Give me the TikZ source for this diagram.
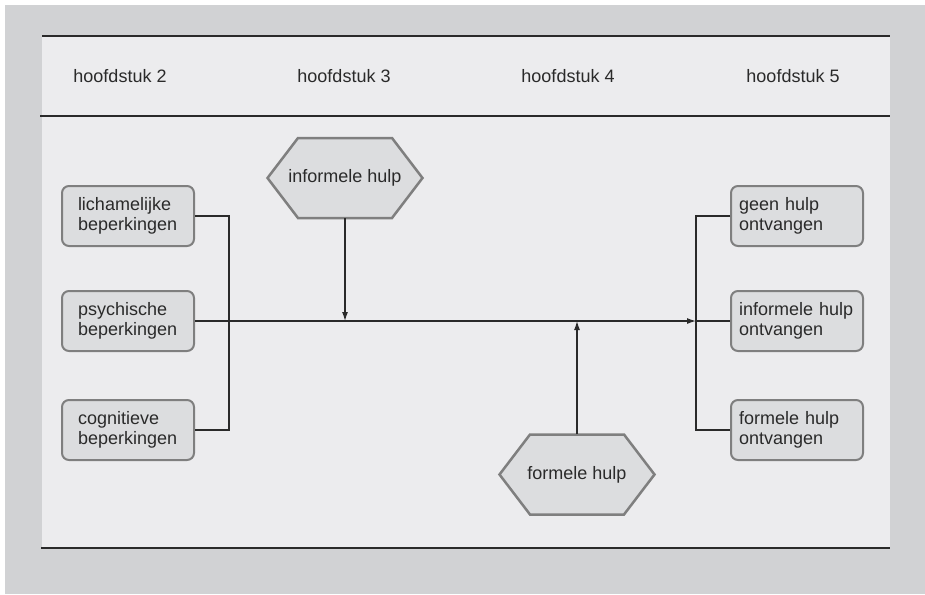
\documentclass[tikz,border=0pt]{standalone}
\usepackage{fontspec}
\setmainfont{Liberation Sans}
\usetikzlibrary{arrows.meta,calc,backgrounds}
\definecolor{outergray}{HTML}{D1D2D4}
\definecolor{panel}{HTML}{ECECEE}
\definecolor{boxfill}{HTML}{DCDDDF}
\definecolor{boxline}{HTML}{7F7F7F}
\definecolor{ink}{HTML}{2A2A2A}
\begin{document}
\begin{tikzpicture}[x=1pt,y=-1pt,
  every node/.style={font=\fontsize{18}{20}\selectfont, text=ink},
  head/.style={inner sep=0pt},
  lbox/.style={draw=boxline, line width=2pt, fill=boxfill, rounded corners=7pt,
    minimum width=132pt, minimum height=60pt, inner xsep=16pt, inner ysep=0pt,
    text width=100pt, align=left},
  rbox/.style={draw=boxline, line width=2pt, fill=boxfill, rounded corners=7pt,
    minimum width=132pt, minimum height=60pt, inner xsep=8pt, inner ysep=0pt,
    text width=116pt, align=left},
  hexnode/.style={minimum height=80pt, inner sep=0pt},
  hexline/.style={draw=boxline, line width=2.5pt, fill=boxfill, line join=miter},
  conn/.style={draw=ink, line width=1.2pt},
  arr/.style={conn, -{Latex[length=9pt,width=6pt]}},
  rule/.style={draw=ink, line width=1.5pt}
]
\useasboundingbox (0,0) rectangle (925,594);
\begin{scope}[on background layer]
\fill[white] (0,0) rectangle (925,594);
\fill[outergray] (5,5) rectangle (925,594);
\fill[panel] (42,36) rectangle (890,548);
\end{scope}
\coordinate (tl) at (42,36);
\coordinate (tr) at (890,36);
\coordinate (ml) at (40,116);
\coordinate (mr) at (890,116);
\coordinate (bl) at (41,548);
\coordinate (br) at (890,548);
\draw[rule] (tl) -- (tr);
\draw[rule] (ml) -- (mr);
\draw[rule] (bl) -- (br);

\node[head] (h2) at (120,76) {hoofdstuk 2};
\node[head] (h3) at (344,76) {hoofdstuk 3};
\node[head] (h4) at (568,76) {hoofdstuk 4};
\node[head] (h5) at (793,76) {hoofdstuk 5};

\node[lbox] (l1) at (128,216) {lichamelijke\\beperkingen};
\node[lbox] (l2) at (128,321) {psychische\\beperkingen};
\node[lbox] (l3) at (128,430) {cognitieve\\beperkingen};

\node[rbox] (r1) at (797,216) {geen hulp\\ontvangen};
\node[rbox] (r2) at (797,321) {informele hulp\\ontvangen};
\node[rbox] (r3) at (797,430) {formele hulp\\ontvangen};

\node[hexnode] (inf) at (345,178) {informele hulp};
\node[hexnode] (fh) at (577,474.5) {formele hulp};
\begin{scope}[on background layer]
\foreach \h in {inf,fh}{
  \path[hexline] ($(\h.center)+(-47,-40)$) -- ($(\h.center)+(47,-40)$)
    -- ($(\h.center)+(77.5,0)$) -- ($(\h.center)+(47,40)$)
    -- ($(\h.center)+(-47,40)$) -- ($(\h.center)+(-77.5,0)$) -- cycle;
}
\end{scope}

\coordinate (lj) at (229,321);
\coordinate (rj) at (696,321);
\coordinate (infj) at (inf.south |- rj);
\coordinate (fhj) at (fh.north |- rj);

\draw[conn] (l1.east) -| (lj) |- (l3.east);
\draw[arr] (l2.east) -- (rj);
\draw[conn] (rj) -- (r2.west);
\draw[conn] (r1.west) -| (rj) |- (r3.west);
\draw[arr] (inf.south) -- (infj);
\draw[arr] (fh.north) -- (fhj);
\end{tikzpicture}
\end{document}
